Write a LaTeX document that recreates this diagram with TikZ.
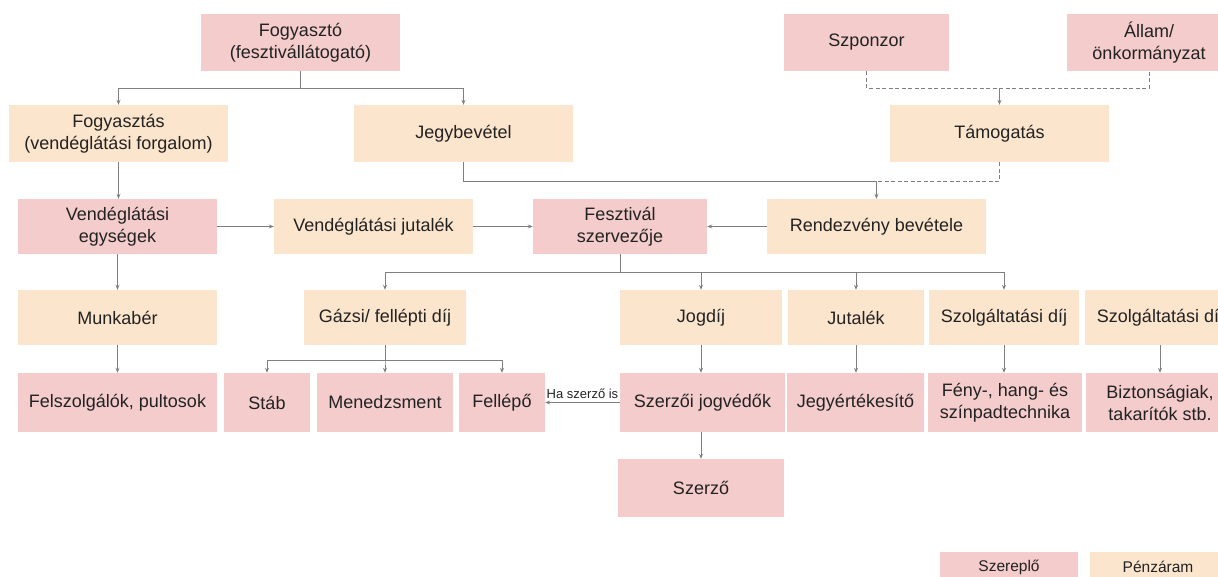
\documentclass[tikz,border=0pt]{standalone}
\usepackage{fontspec}
\setmainfont{Liberation Sans}
\usetikzlibrary{arrows.meta}
\definecolor{actor}{HTML}{F4CCCC}
\definecolor{money}{HTML}{FCE5CD}
\definecolor{lncol}{HTML}{7F7F7F}
\definecolor{txt}{HTML}{222222}
\begin{document}
\begin{tikzpicture}[x=1pt,y=-1pt,
  base/.style={inner sep=0pt, align=center, font=\fontsize{18}{22}\selectfont, text=txt},
  act/.style={base, fill=actor},
  mon/.style={base, fill=money},
  legend/.style={font=\fontsize{15.5}{17}\selectfont},
  arr/.style={draw=lncol, line width=1pt, -{Stealth[length=5pt,width=4pt]}},
  conn/.style={draw=lncol, line width=1pt},
  dsh/.style={dash pattern=on 4pt off 2.5pt}]
\clip (0,0) rectangle (1218,576);
\useasboundingbox (0,0) rectangle (1218,576);

% row 1
\node[act, minimum width=199pt, minimum height=57pt] (fogy) at (300.5,42.5) {Fogyasztó\\(fesztivállátogató)};
\node[act, minimum width=165pt, minimum height=57pt] (szpon) at (866.5,42.5) {Szponzor};
\node[act, minimum width=164pt, minimum height=57pt] (allam) at (1149,42.5) {Állam/\\önkormányzat};
% row 2
\node[mon, minimum width=219pt, minimum height=57pt] (fogyt) at (118.5,133.5) {Fogyasztás\\(vendéglátási forgalom)};
\node[mon, minimum width=219pt, minimum height=57pt] (jegy) at (463.5,133.5) {Jegybevétel};
\node[mon, minimum width=219pt, minimum height=57pt] (tam) at (999.5,133.5) {Támogatás};
% row 3
\node[act, minimum width=199pt, minimum height=55pt] (vend) at (117.5,226.5) {Vendéglátási\\egységek};
\node[mon, minimum width=199pt, minimum height=55pt] (vjut) at (373.5,226.5) {Vendéglátási jutalék};
\node[act, minimum width=174pt, minimum height=55pt] (fesz) at (620,226.5) {Fesztivál\\szervezője};
\node[mon, minimum width=219pt, minimum height=55pt] (rend) at (876.5,226.5) {Rendezvény bevétele};
% row 4
\node[mon, minimum width=199pt, minimum height=55pt] (munka) at (117.5,317.5) {Munkabér};
\node[mon, minimum width=162pt, minimum height=55pt] (gazsi) at (385,317.5) {Gázsi/ fellépti díj};
\node[mon, minimum width=162pt, minimum height=55pt] (jog) at (701,317.5) {Jogdíj};
\node[mon, minimum width=136pt, minimum height=55pt] (jut) at (856,317.5) {Jutalék};
\node[mon, minimum width=150pt, minimum height=55pt] (szd1) at (1004,317.5) {Szolgáltatási díj};
\node[mon, minimum width=150pt, minimum height=55pt] (szd2) at (1160,317.5) {Szolgáltatási díj};
% row 5
\node[act, minimum width=199pt, minimum height=59pt] (felsz) at (117.5,402.5) {Felszolgálók, pultosok};
\node[act, minimum width=86pt, minimum height=59pt] (stab) at (267,402.5) {Stáb};
\node[act, minimum width=136pt, minimum height=59pt] (men) at (385,402.5) {Menedzsment};
\node[act, minimum width=86pt, minimum height=59pt] (fell) at (502,402.5) {Fellépő};
\node[act, minimum width=165pt, minimum height=59pt] (szjv) at (702.5,402.5) {Szerzői jogvédők};
\node[act, minimum width=137pt, minimum height=59pt] (jegyert) at (855.5,402.5) {Jegyértékesítő};
\node[act, minimum width=154pt, minimum height=59pt] (feny) at (1005,402.5) {Fény-, hang- és\\színpadtechnika};
\node[act, minimum width=148pt, minimum height=59pt] (bizt) at (1160,402.5) {Biztonságiak,\\takarítók stb.};
% row 6
\node[act, minimum width=166pt, minimum height=58pt] (szerzo) at (701,488) {Szerző};
% legend
\node[act, legend, minimum width=138pt, minimum height=30pt] (leg1) at (1009,567) {Szereplő};
\node[mon, legend, minimum width=136pt, minimum height=30pt] (leg2) at (1158,567) {Pénzáram};

% connectors
\draw[arr] (fogy.south) -- ++(0,17) -| (fogyt.north);
\draw[arr] (fogy.south) -- ++(0,17) -| (jegy.north);
\draw[arr] (fogyt.south) -- (fogyt.south |- vend.north);
\draw[arr] (jegy.south) -- ++(0,19) -| (rend.north);
\draw[conn,dsh] (szpon.south) -- ++(0,17) coordinate (sj) -| (allam.south);
\draw[arr] (sj -| tam.north) -- (tam.north);
\draw[conn,dsh] (tam.south) -- ++(0,19) coordinate (tj) -- (tj -| rend.north);
\draw[arr] (vend.east) -- (vjut.west);
\draw[arr] (vjut.east) -- (fesz.west);
\draw[arr] (rend.west) -- (fesz.east);
\foreach \t in {gazsi,jog,jut,szd1} \draw[arr] (fesz.south) -- ++(0,18) -| (\t.north);
\draw[arr] (vend.south) -- (munka.north);
\draw[arr] (munka.south) -- (felsz.north);
\foreach \t in {stab,men,fell} \draw[arr] (gazsi.south) -- ++(0,15) -| (\t.north);
\draw[arr] (jog.south) -- (jog.south |- szjv.north);
\draw[arr] (jut.south) -- (jut.south |- jegyert.north);
\draw[arr] (szd1.south) -- (szd1.south |- feny.north);
\draw[arr] (szd2.south) -- (bizt.north);
\draw[arr] (szjv.south -| szerzo.north) -- (szerzo.north);
\draw[arr] (szjv.west) -- node[above=3pt, font=\fontsize{13}{15}\selectfont, text=txt, inner sep=0pt] (hasz) {Ha szerző is} (fell.east);
\end{tikzpicture}
\end{document}
